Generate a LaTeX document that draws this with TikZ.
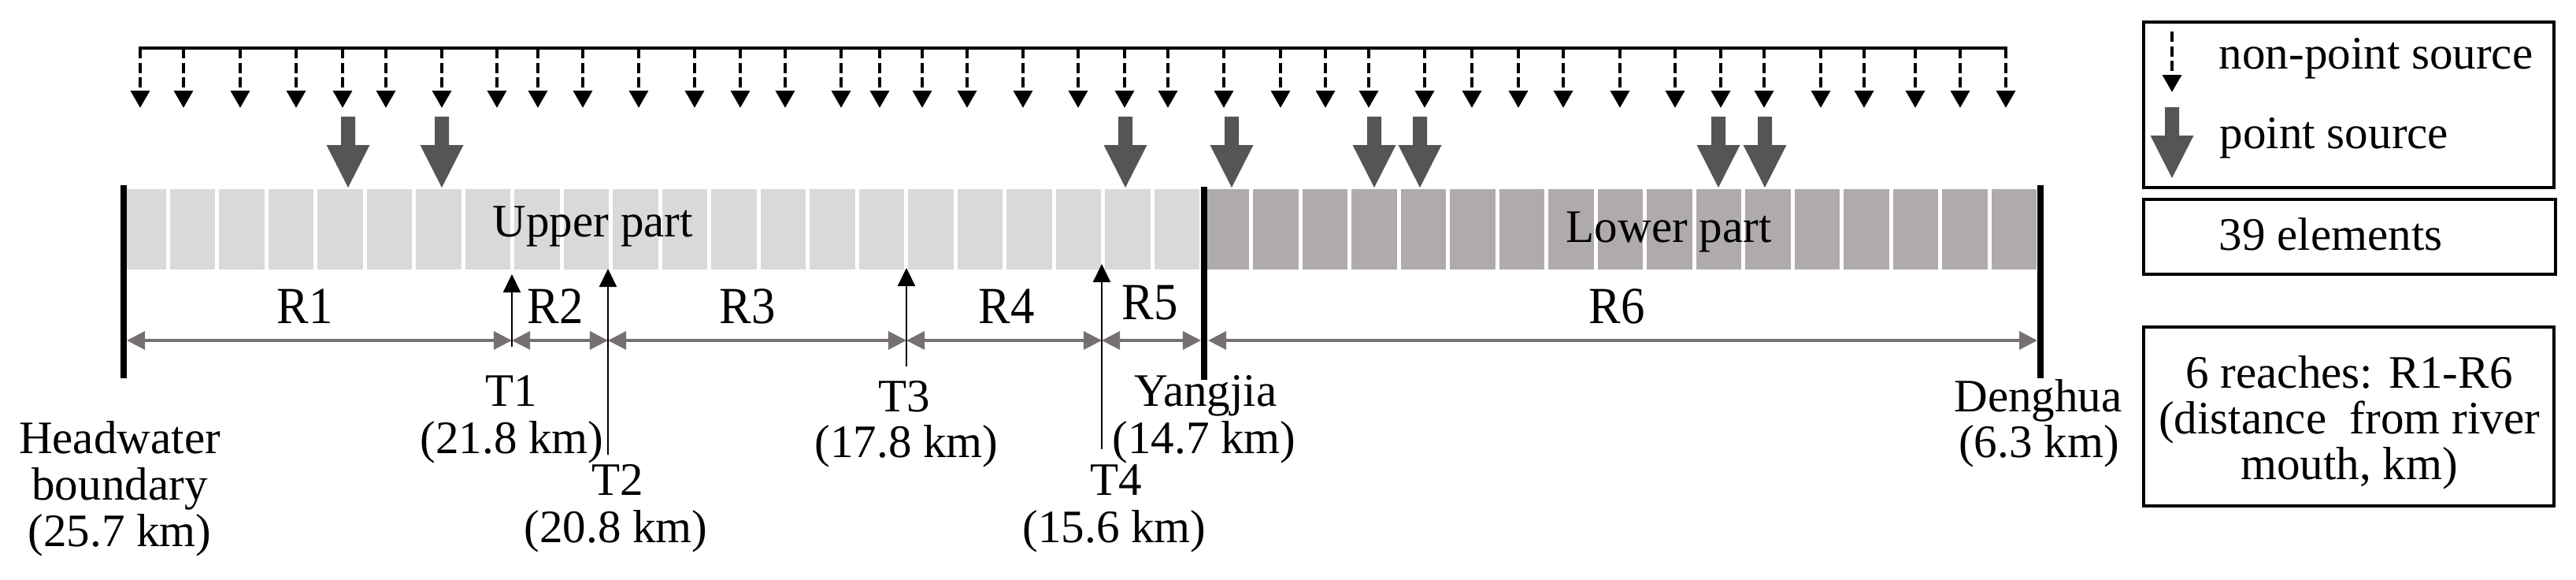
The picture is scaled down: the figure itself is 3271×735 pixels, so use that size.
\documentclass[tikz,border=0pt]{standalone}
\usepackage{fontspec}
\setmainfont{Liberation Serif}
\newfontfamily\rfont{Liberation Serif}[FakeStretch=0.92]
\usetikzlibrary{arrows.meta}
\definecolor{lightcell}{HTML}{D9D9D9}
\definecolor{darkcell}{HTML}{AFABAB}
\definecolor{psgray}{HTML}{555555}
\definecolor{dimgray}{HTML}{767171}
\begin{document}
\begin{tikzpicture}[x=0.01cm,y=-0.01cm,
  font=\fontsize{16.8}{16.8}\selectfont,
  lbl/.style={anchor=base, inner sep=0pt},
  lbll/.style={anchor=base west, inner sep=0pt},
  rlbl/.style={anchor=base, inner sep=0pt, font=\rfont\fontsize{18.8}{18.8}\selectfont},
  npsarrow/.style={line width=1.4pt, dash pattern=on 0.13cm off 0.055cm, -{Triangle[length=0.22cm,width=0.235cm]}},
  tribarrow/.style={line width=0.65pt, -{Triangle[length=0.23cm,width=0.22cm]}},
  dimarrow/.style={dimgray, line width=0.9pt, {Triangle[length=0.23cm,width=0.23cm]}-{Triangle[length=0.23cm,width=0.23cm]}},
  bound/.style={line width=2.3pt},
  legbox/.style={line width=1.1pt},
  psarrow/.pic={\fill[psgray] (-9,0) -- (9,0) -- (9,36) -- (27.5,36) -- (0,90) -- (-27.5,36) -- (-9,36) -- cycle;}]
\useasboundingbox (0,0) rectangle (3271,735);

% river elements
\fill[lightcell] (161,240) rectangle (211,342);
\foreach \k in {1,...,21} \fill[lightcell] ({216+62.476*(\k-1)},240) rectangle ({211+62.476*\k},342);
\fill[darkcell] (1533,240) rectangle (1586,342);
\foreach \k in {1,...,16} \fill[darkcell] ({1591+62.5*(\k-1)},240) rectangle ({1586+62.5*\k},342);
\node[lbll] (upper) at (625,300) {Upper part};
\node[lbll] (lower) at (1988,307) {Lower part};

% non-point sources
\foreach \x [count=\i] in {178,233,305,376,435,490,561,631,683,740,811,882,940,997,1068,1117,1171,1228,1299,1369,1428,1483,1554,1626,1683,1738,1809,1869,1928,1985,2057,2127,2185,2240,2312,2367,2432,2489,2547} {
  \coordinate (np\i) at (\x,61);
  \coordinate (npt\i) at (\x,137);
  \draw[npsarrow] (np\i) -- (npt\i);
}
\draw[line width=1pt, line cap=rect] (np1) -- (np39);

% point sources
\foreach \x in {442,561,1429,1564,1745,1803,2182,2241} \pic at (\x,148) {psarrow};

% reach dimension line
\coordinate (hwA) at (161,432);
\coordinate (t1A) at (650,432);
\coordinate (t2A) at (772,432);
\coordinate (t3A) at (1151,432);
\coordinate (t4A) at (1399,432);
\coordinate (yjL) at (1525,432);
\coordinate (yjR) at (1534,432);
\coordinate (dhA) at (2587,432);
\draw[dimarrow] (hwA) -- (t1A);
\draw[dimarrow] (t1A) -- (t2A);
\draw[dimarrow] (t2A) -- (t3A);
\draw[dimarrow] (t3A) -- (t4A);
\draw[dimarrow] (t4A) -- (yjL);
\draw[dimarrow] (yjR) -- (dhA);

% boundaries
\coordinate (hwT) at (157,235); \coordinate (hwB) at (157,480);
\coordinate (yjT) at (1529,237); \coordinate (yjB) at (1529,482);
\coordinate (dhT) at (2591,235); \coordinate (dhB) at (2591,480);
\draw[bound] (hwT) -- (hwB);
\draw[bound] (yjT) -- (yjB);
\draw[bound] (dhT) -- (dhB);

% tributaries
\coordinate (t1s) at (650,440); \coordinate (t1e) at (650,348);
\coordinate (t2s) at (772,577); \coordinate (t2e) at (772,341);
\coordinate (t3s) at (1151,465); \coordinate (t3e) at (1151,340);
\coordinate (t4s) at (1399,570); \coordinate (t4e) at (1399,335);
\draw[tribarrow] (t1s) -- (t1e);
\draw[tribarrow] (t2s) -- (t2e);
\draw[tribarrow] (t3s) -- (t3e);
\draw[tribarrow] (t4s) -- (t4e);

% reach labels
\node[rlbl] (r1) at (387,410) {R1};
\node[rlbl] (r2) at (705,410) {R2};
\node[rlbl] (r3) at (949,410) {R3};
\node[rlbl] (r4) at (1278,410) {R4};
\node[rlbl] (r5) at (1460,405) {R5};
\node[rlbl] (r6) at (2053,410) {R6};

% location labels
\node[lbl] (hw1) at (152,575) {Headwater};
\node[lbl] (hw2) at (152,634) {boundary};
\node[lbl] (hw3) at (152,693) {(25.7 km)};
\node[lbl] (t1a) at (649,515) {T1};
\node[lbl] (t1b) at (650,575) {(21.8 km)};
\node[lbl] (t2a) at (784,628) {T2};
\node[lbl] (t2b) at (782,688) {(20.8 km)};
\node[lbl] (t3a) at (1148,522) {T3};
\node[lbl] (t3b) at (1151,580) {(17.8 km)};
\node[lbl] (t4a) at (1417,628) {T4};
\node[lbl] (t4b) at (1415,688) {(15.6 km)};
\node[lbl] (yja) at (1531,515) {Yangjia};
\node[lbl] (yjb) at (1529,575) {(14.7 km)};
\node[lbl] (dha) at (2588,522) {Denghua};
\node[lbl] (dhb) at (2589,580) {(6.3 km)};

% legend
\draw[legbox] (2722,28) rectangle (3243,238);
\draw[legbox] (2722,253) rectangle (3245,348);
\draw[legbox] (2722,415) rectangle (3243,642);
\coordinate (lgs) at (2758,40); \coordinate (lge) at (2758,117);
\draw[npsarrow] (lgs) -- (lge);
\pic at (2758,136) {psarrow};
\node[lbll] (lg1) at (2817,87) {non-point source};
\node[lbll] (lg2) at (2818,188) {point source};
\node[lbll] (lg3) at (2817,317) {39 elements};
\node[lbl] (lg4) at (2983,492) {6 reaches: R1-R6};
\node[lbl] (lg5) at (2983,550) {(distance\ \ from river};
\node[lbl] (lg6) at (2983,608) {mouth, km)};
\end{tikzpicture}
\end{document}
